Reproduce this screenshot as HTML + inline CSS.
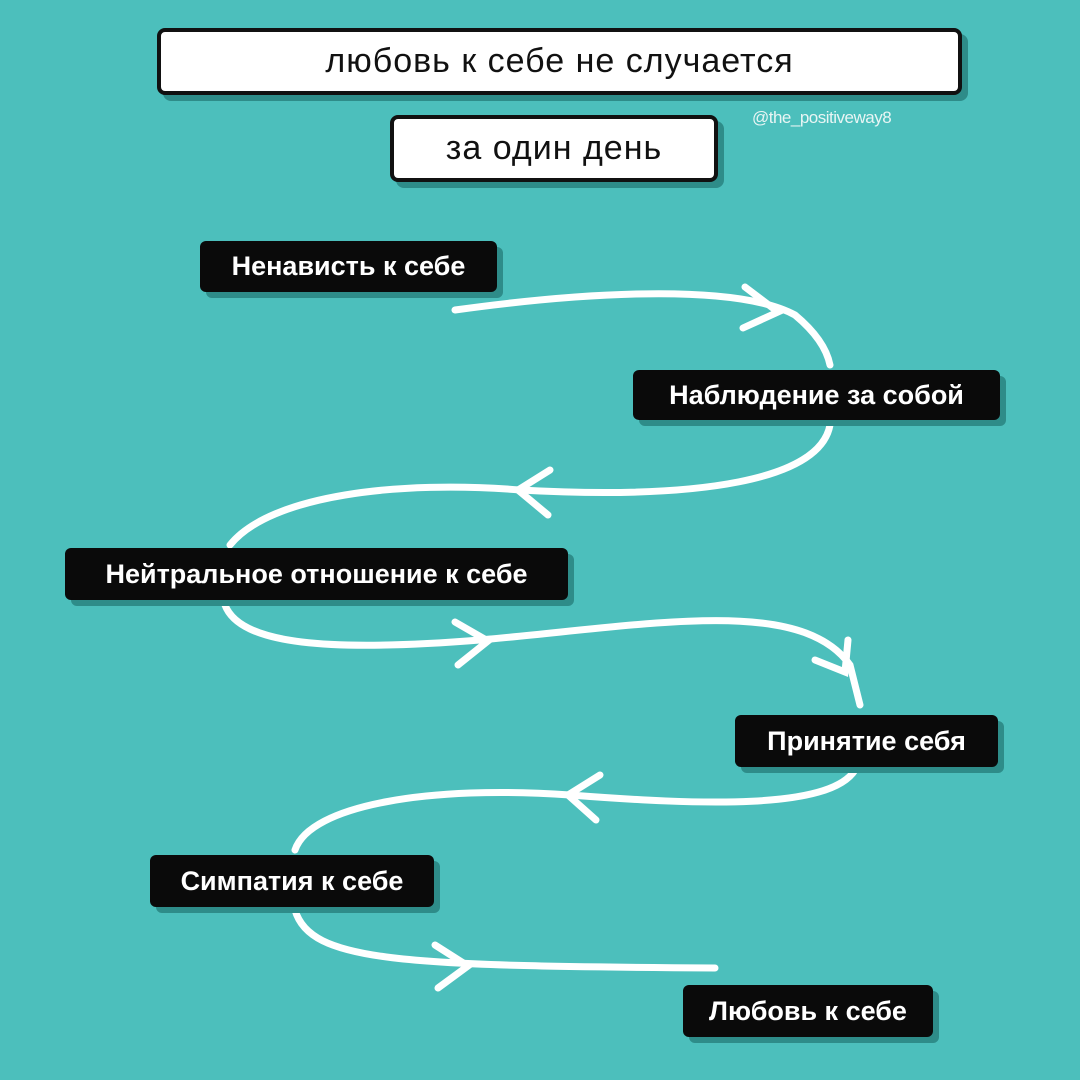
<!DOCTYPE html>
<html><head><meta charset="utf-8"><style>
body{margin:0;width:1080px;height:1080px;background:#4cbfbc;position:relative;overflow:hidden;font-family:"Liberation Sans","Noto Sans CJK SC",sans-serif}
.w{position:absolute;background:#fff;border:4px solid #111;border-radius:8px;box-shadow:6px 6px 0 #2e8c89;box-sizing:border-box;display:flex;align-items:center;justify-content:center;color:#111;font-size:34px;letter-spacing:1px}
.b{position:absolute;background:#0a0a0a;border-radius:6px;box-shadow:6px 6px 0 #2e8c89;box-sizing:border-box;display:flex;align-items:center;justify-content:center;color:#fff;font-size:27px;font-weight:bold}
svg{position:absolute;left:0;top:0}
</style></head><body>
<svg width="1080" height="1080" fill="none" stroke="#fff" stroke-width="7" stroke-linecap="round">
<path d="M455,310 C600,290 740,285 795,315 Q825,340 830,365"/>
<path d="M745,287 L778,312 L743,328"/>
<path d="M830,425 C820,480 700,500 520,490 C400,480 270,495 230,545"/>
<path d="M550,470 L518,490 L548,515"/>
<path d="M225,605 C240,645 330,652 480,640 C650,625 800,595 850,665 L860,705"/>
<path d="M455,622 L488,641 L458,665"/>
<path d="M815,660 L845,672 L848,640"/>
<path d="M855,770 C830,810 700,805 570,795 C430,785 310,805 295,850"/>
<path d="M600,775 L568,795 L596,820"/>
<path d="M295,910 C310,962 400,966 715,968"/>
<path d="M435,945 L468,966 L438,988"/>
</svg>
<div class="w" style="left:157px;top:28px;width:805px;height:67px">любовь к себе не случается</div>
<div class="w" style="left:390px;top:115px;width:328px;height:67px">за один день</div>
<div style="position:absolute;left:752px;top:108px;font-size:17px;color:#e8f5f4;letter-spacing:-0.5px">@the_positiveway8</div>
<div class="b" style="left:200px;top:241px;width:297px;height:51px">Ненависть к себе</div>
<div class="b" style="left:633px;top:370px;width:367px;height:50px">Наблюдение за собой</div>
<div class="b" style="left:65px;top:548px;width:503px;height:52px">Нейтральное отношение к себе</div>
<div class="b" style="left:735px;top:715px;width:263px;height:52px">Принятие себя</div>
<div class="b" style="left:150px;top:855px;width:284px;height:52px">Симпатия к себе</div>
<div class="b" style="left:683px;top:985px;width:250px;height:52px">Любовь к себе</div>
</body></html>
